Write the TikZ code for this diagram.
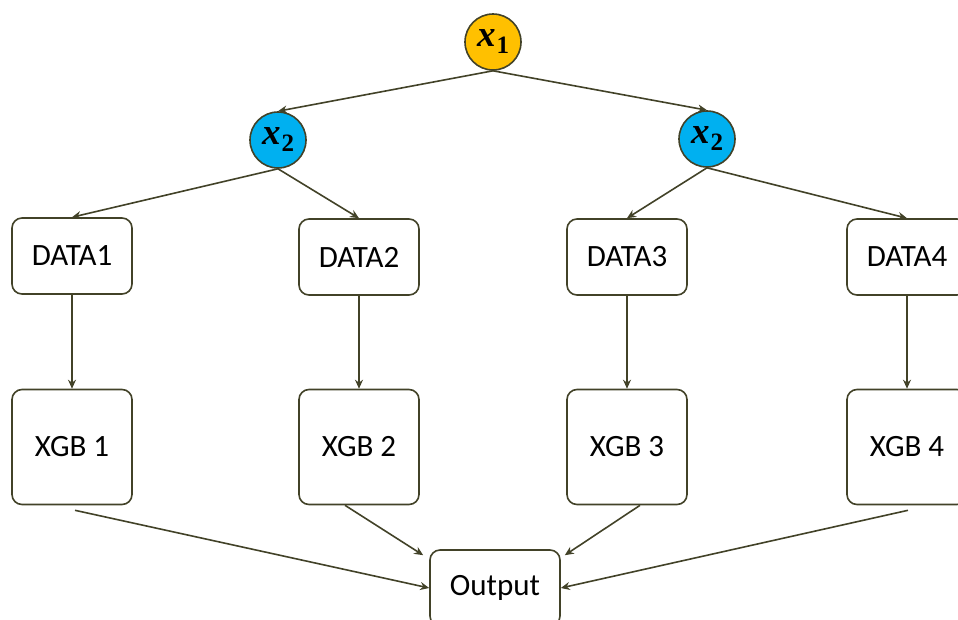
\documentclass[tikz,border=0pt]{standalone}
\usepackage{fontspec}
\setmainfont{Carlito}
\newfontfamily\xfont{Liberation Serif}
\usetikzlibrary{arrows.meta,calc}
\definecolor{edgecol}{RGB}{66,66,40}
\definecolor{yel}{RGB}{255,192,0}
\definecolor{blu}{RGB}{0,176,240}
\newcommand{\xvar}[1]{{\xfont\bfseries\itshape x\kern1pt\raisebox{-7pt}{\fontsize{25}{25}\selectfont\upshape #1}}}
\tikzset{
  conn/.style={draw=edgecol, line width=1.6pt, -{Stealth[length=9pt,width=8pt]}},
  rbox/.style={draw=edgecol, line width=1.6pt, rounded corners=10pt, fill=white, minimum width=120pt, inner sep=0pt, font=\fontsize{31}{36}\selectfont},
  dbox/.style={rbox, minimum height=76pt},
  xbox/.style={rbox, minimum height=115pt},
  var/.style={circle, draw=edgecol, line width=1.6pt, minimum size=56pt, inner sep=0pt, font=\fontsize{37}{40}\selectfont}
}
\begin{document}
\begin{tikzpicture}[x=1pt,y=-1pt]
\useasboundingbox (0,0) rectangle (958,619);
\clip (0,0) rectangle (958,619);
\node[var, fill=yel] (x1) at (493,42) {\xvar{1}};
\node[var, fill=blu] (x2a) at (278,140) {\xvar{2}};
\node[var, fill=blu] (x2b) at (707,139) {\xvar{2}};
\node[dbox] (d1) at (72,256) {DATA1};
\node[dbox] (d2) at (359,257) {DATA2};
\node[dbox] (d3) at (627,257) {DATA3};
\node[dbox] (d4) at (907,257) {DATA4};
\node[xbox] (g1) at (72,447) {XGB 1};
\node[xbox] (g2) at (359,447) {XGB 2};
\node[xbox] (g3) at (627,447) {XGB 3};
\node[xbox] (g4) at (907,447) {XGB 4};
\node[rbox, minimum width=130pt, minimum height=76pt] (out) at (495,588) {Output};
\draw[conn] (x1.south) -- (x2a.north);
\draw[conn] (x1.south) -- (x2b.north);
\draw[conn] (x2a.south) -- (d1.north);
\draw[conn] (x2a.south) -- (d2.north);
\draw[conn] (x2b.south) -- (d3.north);
\draw[conn] (x2b.south) -- (d4.north);
\draw[conn] (d1.south) -- (g1.north);
\draw[conn] (d2.south) -- (g2.north);
\draw[conn] (d3.south) -- (g3.north);
\draw[conn] (d4.south) -- (g4.north);
\coordinate (s1) at ($(g1.south)+(3,5)$);
\coordinate (s2) at ($(g2.south)+(-14,0)$);
\coordinate (s3) at ($(g3.south)+(13,0)$);
\coordinate (s4) at ($(g4.south)+(1,5)$);
\coordinate (e2) at ($(out.north west)+(-6,6)$);
\coordinate (e3) at ($(out.north east)+(4,6)$);
\draw[conn] (s1) -- (out.west);
\draw[conn] (s2) -- (e2);
\draw[conn] (s3) -- (e3);
\draw[conn] (s4) -- (out.east);
\end{tikzpicture}
\end{document}
